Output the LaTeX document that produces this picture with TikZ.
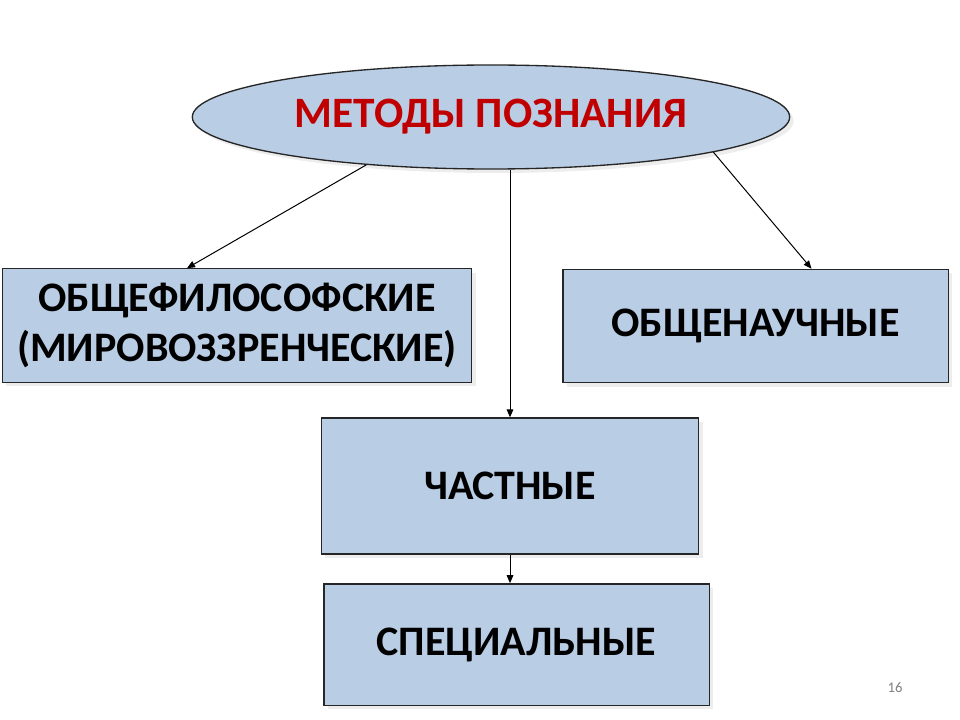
\documentclass[tikz,border=0pt]{standalone}
\usepackage{fontspec}
\setmainfont{Carlito}
\usetikzlibrary{arrows.meta, shapes.geometric, shadows}

\definecolor{boxblue}{HTML}{B9CDE5}
\definecolor{titlered}{HTML}{C00000}

\tikzset{
  methbox/.style={draw=black!85, line width=1pt, fill=boxblue, inner sep=0pt,
    align=center, font=\fontsize{31.5}{38}\selectfont\bfseries,
    drop shadow={shadow xshift=3pt, shadow yshift=-3pt, fill=black, opacity=0.07}},
  link/.style={-{Triangle[length=6pt, width=5pt]}, line width=0.75pt}
}

\begin{document}
\begin{tikzpicture}[x=0.75pt, y=-0.75pt]
  \useasboundingbox[fill=white] (0,0) rectangle (960,720);
  % root
  \node[methbox, ellipse, minimum width=448pt, minimum height=78pt, text=titlered,
    font=\fontsize{32.5}{38}\selectfont\bfseries]
    (meth) at (491,117) {МЕТОДЫ ПОЗНАНИЯ};
  % kinds of methods
  \node[methbox, minimum width=352pt, minimum height=85pt]
    (phil) at (237,325.5) {ОБЩЕФИЛОСОФСКИЕ\\(МИРОВОЗЗРЕНЧЕСКИЕ)};
  \node[methbox, minimum width=289pt, minimum height=85pt]
    (sci) at (755.5,326) {ОБЩЕНАУЧНЫЕ};
  \node[methbox, minimum width=283pt, minimum height=102pt]
    (part) at (510,486) {ЧАСТНЫЕ};
  \node[methbox, minimum width=289pt, minimum height=91pt]
    (spec) at (516.5,644.5) {СПЕЦИАЛЬНЫЕ};
  % arrows
  \draw[link] (meth.201) -- ([xshift=-37.5pt]phil.north);
  \draw[link] (meth.south -| part.north) -- (part.north);
  \draw[link] (meth.351) -- ([xshift=42pt]sci.north);
  \draw[link] (part.south) -- (part.south |- spec.north);
  % slide number
  \node[text=black!50, font=\fontsize{11}{13}\selectfont] (num) at (895,688) {16};
\end{tikzpicture}
\end{document}
